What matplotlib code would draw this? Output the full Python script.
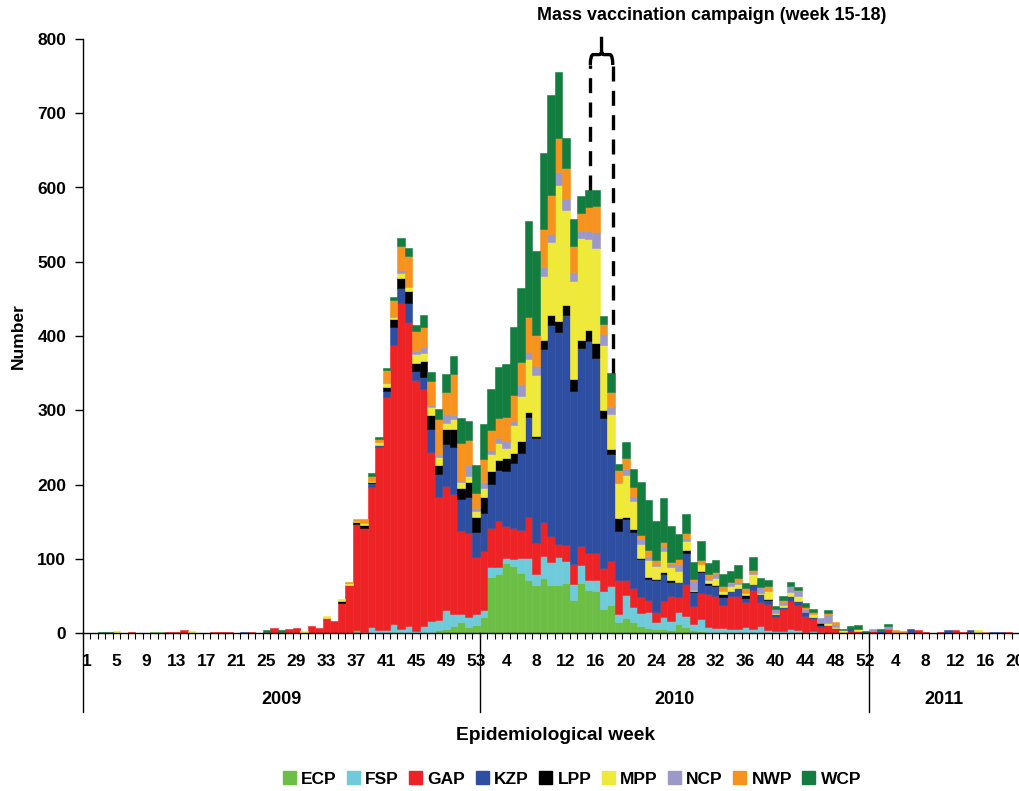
import numpy as np
import matplotlib
matplotlib.use('Agg')
import matplotlib.pyplot as plt
from matplotlib.path import Path
from matplotlib.patches import PathPatch, Patch
import matplotlib.transforms as mtrans

# ---------------- data ----------------
weeks_2009 = list(range(1, 54))
weeks_2010 = list(range(1, 53))
weeks_2011 = list(range(1, 21))

series_names = ['ECP', 'FSP', 'GAP', 'KZP', 'LPP', 'MPP', 'NCP', 'NWP', 'WCP']
series_colors = ['#6CBE45', '#6FCBD9', '#EE2326', '#2E4FA1', '#000000',
                 '#EFEA3A', '#9C98CA', '#F6921E', '#127D3F']

ECP_2009 = [0, 0, 0, 0, 0, 0, 0, 0, 0, 1.3,
            1.3, 0, 0, 0, 0, 0, 0, 0, 0, 0,
            0, 0, 0, 0, 0, 0, 0, 0, 0, 0,
            0, 0, 0, 0, 0, 0, 3.5, 0, 0, 0,
            0, 1.5, 0, 0, 0, 0, 0, 4.5, 6, 10,
            15, 8.5, 11]
FSP_2009 = [0] * 30 + [0, 0, 0, 0, 0, 0, 0, 2, 8.5, 4.5,
                       4.5, 10, 6, 9, 3, 10, 16.6, 13.5, 25.6, 16,
                       10.8, 13.5, 15]
GAP_2009 = [0, 0, 0, 0, 0, 0, 1.3, 0, 0, 0,
            0, 1.3, 1.3, 4.5, 0, 0, 0, 1.3, 1.3, 1.3,
            0, 0, 1.3, 0, 1.3, 6.7, 1.3, 5.4, 6.7, 0,
            9.4, 6.7, 20, 16, 40, 65, 143.5, 140, 187.6, 245.5,
            313, 376, 439, 410, 338, 319, 227.6, 165.6, 167, 161.6,
            112, 113, 77]
KZP_2009 = [0] * 20 + [0, 1.3, 0, 0, 0, 0, 0, 0, 0, 0,
                       0, 0, 0, 0, 0, 0, 0, 0, 5.4, 2.7,
                       9, 24, 19, 25, 12, 16, 31, 31, 56.5, 63,
                       43, 48.5, 33.6]
LPP_2009 = [0] * 30 + [0, 0, 0, 0, 2.7, 0, 2.7, 3.6, 1.3, 0,
                       5.4, 12, 13.5, 16, 10.8, 21.5, 18.8, 12, 20, 24,
                       14.8, 20, 20]
MPP_2009 = [0, 0, 0, 0, 2.7, 0, 0, 0, 0, 0,
            0, 0, 0, 0, 2.7, 0, 0, 0, 0, 0,
            0, 0, 0, 0, 0, 0, 0, 0, 0, 2.7,
            0, 0, 2.7, 0, 3.6, 2, 1.3, 2.2, 2.2, 4,
            4.5, 2.2, 8, 5.4, 12, 10.8, 10.8, 10.8, 8, 13.5,
            8, 8, 8]
NCP_2009 = [0] * 40 + [2.2, 1.8, 4, 0, 4, 8, 1.8, 4, 12, 5.4,
                       1.3, 14.8, 4]
NWP_2009 = [0] * 30 + [0, 0, 0, 0, 0, 2, 2.7, 5.8, 6.7, 4,
                       16, 21.5, 31.4, 41.7, 27, 27, 33, 47, 29.6, 55,
                       51, 33.6, 20]
WCP_2009 = [0, 0, 1.3, 1.3, 0, 0, 0, 0, 0, 0,
            0, 0, 0, 0, 0, 0, 0, 0, 0, 0,
            0, 0, 0, 0, 2.7, 0, 2.7, 0, 0, 0,
            0, 0, 0, 0, 0, 0, 0, 0, 3.6, 3.6,
            2.7, 4, 11.7, 10.8, 8, 16, 12, 13.5, 24, 24,
            33.6, 25.6, 37.7]

ECP_2010 = [21, 75, 79, 94, 90, 81, 71, 64, 74, 64,
            65, 67, 44, 67, 58, 56, 32, 38, 15, 20,
            15, 10, 7, 5, 5, 4, 11.7, 7.6, 4, 3,
            0, 0, 0, 0, 0, 0, 0, 0, 1.3, 0,
            0, 0, 0, 0, 0, 0, 0, 0, 0, 0,
            0, 0]
FSP_2010 = [10, 14, 10, 7.5, 9, 20, 30, 15, 30, 32,
            38, 30, 22.5, 25, 13.5, 16, 24, 25, 11, 31,
            20, 17.5, 21.5, 10, 17, 12, 16.6, 15, 8, 15.7,
            7.6, 6.7, 6.3, 5, 5, 7.6, 5, 9.4, 3, 3,
            3, 5, 4, 1.5, 2.7, 1.3, 0, 0, 0, 0,
            0, 0]
GAP_2010 = [80, 52, 62, 42, 42, 38, 55, 42, 45, 35,
            17, 22, 27, 25, 36, 36, 31, 34, 45, 20,
            25, 21.5, 15.7, 13.5, 21, 33.7, 20, 43, 24, 34.6,
            45, 43.5, 31.4, 45, 45, 34.6, 53, 32.8, 35, 18,
            28.7, 38, 34, 22, 16, 6.7, 10.8, 5.4, 1.3, 3.2,
            2.7, 0]
KZP_2010 = [51, 60, 68, 75, 88, 104, 135, 142, 234, 284,
            285, 309, 233, 267, 286, 263, 202, 144, 66, 83,
            76, 51, 28, 42.6, 37, 19.3, 20.7, 42.6, 19, 28.7,
            12.6, 13.5, 11.2, 6.7, 11, 5.4, 7.6, 10, 5.4, 4.5,
            3.6, 6.7, 4.5, 4.5, 2.7, 2.7, 0, 1.3, 0, 4,
            0, 0]
LPP_2010 = [21, 17.5, 14, 17.5, 14, 15, 6.5, 2.5, 11, 13.5,
            15, 14, 16, 11, 14.4, 20, 11, 7, 18, 2,
            4.5, 1.3, 3, 2, 2.2, 2, 0, 4, 1.3, 1.3,
            1.8, 1, 3, 0, 0, 3.6, 0, 0, 1.3, 0,
            0, 0, 0, 0, 0, 2.7, 0, 0, 0, 0,
            0, 0]
MPP_2010 = [12.5, 22.5, 22.4, 13.5, 37, 61, 72, 82, 87, 98,
            183, 128, 131, 137, 123, 128, 87.5, 47, 47, 57,
            37, 18.4, 23, 16.6, 28, 18, 14.4, 11.2, 2.2, 10.3,
            4.5, 10, 4.5, 6.7, 5, 3, 13.5, 2.2, 10, 1.8,
            2.2, 5.8, 7.6, 0, 4, 0, 2.7, 1.3, 2.2, 0,
            2.7, 0]
NCP_2010 = [7.5, 6, 7.5, 9, 5, 16, 9, 12.5, 12.5, 11,
            18, 14, 12.6, 9, 11, 21.5, 15.7, 10, 2, 8.5,
            7, 6.7, 6, 3.6, 6.7, 4.5, 9.4, 5, 11, 0,
            3, 4.5, 0, 3.6, 3, 0, 3.6, 8, 0, 4.5,
            4.5, 8, 6.7, 4, 0, 6.7, 10.8, 4, 0, 0,
            0, 0]
NWP_2010 = [31, 26.4, 26, 32, 35, 30, 47, 41, 51, 52,
            45, 42, 34.6, 25, 32, 34.6, 12.6, 19, 16, 14,
            12.6, 5.4, 7.6, 4.5, 5.4, 2.2, 6.3, 6.7, 2.7, 4.5,
            5, 2.7, 6.7, 2.2, 4.5, 5.8, 2, 0, 7.6, 0,
            3, 0, 1.3, 2.7, 2.7, 0, 2.7, 2.7, 0, 0,
            0, 0]
WCP_2010 = [48, 55, 69, 72, 92, 99, 129, 113, 102, 135,
            90, 41, 37, 23, 23, 21.5, 10.8, 26, 7, 22,
            24, 71.4, 67, 52.5, 59, 48, 34, 24.7, 24, 25.6,
            14.4, 16.6, 16, 14.4, 18, 8, 17, 11.2, 8, 4.5,
            4.5, 5, 4.5, 5.4, 4, 0, 4, 0, 1.8, 2.7,
            5.4, 2.7]

ECP_2011 = [0] * 20
FSP_2011 = [0] * 20
GAP_2011 = [2.7, 0, 5.4, 0, 0, 1.3, 4, 1.3, 0, 1.3,
            0, 4, 1.3, 1.3, 0, 0, 0, 0, 1.3, 0]
KZP_2011 = [0, 2.7, 0, 0, 0, 4, 0, 0, 0, 0,
            4, 0, 0, 2.7, 1.3, 0, 1.3, 1.3, 0, 0]
LPP_2011 = [0] * 20
MPP_2011 = [0, 0, 0, 0, 0, 0, 0, 0, 0, 0,
            0, 0, 0, 0, 2.7, 0, 0, 0, 0, 0]
NCP_2011 = [2.7, 0, 4, 1.3, 0, 0, 0, 0, 0, 0,
            0, 0, 0, 0, 0, 0, 0, 0, 0, 0]
NWP_2011 = [0, 0, 0, 2.7, 2.7, 0, 0, 0, 0, 0,
            0, 0, 0, 0, 0, 1.3, 0, 0, 0, 0]
WCP_2011 = [0, 2.7, 2.7, 0, 0, 0, 0, 0, 0, 0,
            0, 0, 0, 0, 0, 0, 0, 0, 0, 0]

data = {
    'ECP': ECP_2009 + ECP_2010 + ECP_2011,
    'FSP': FSP_2009 + FSP_2010 + FSP_2011,
    'GAP': GAP_2009 + GAP_2010 + GAP_2011,
    'KZP': KZP_2009 + KZP_2010 + KZP_2011,
    'LPP': LPP_2009 + LPP_2010 + LPP_2011,
    'MPP': MPP_2009 + MPP_2010 + MPP_2011,
    'NCP': NCP_2009 + NCP_2010 + NCP_2011,
    'NWP': NWP_2009 + NWP_2010 + NWP_2011,
    'WCP': WCP_2009 + WCP_2010 + WCP_2011,
}

tick_weeks_2009 = list(range(1, 54, 4))
tick_weeks_2010 = list(range(4, 53, 4))
tick_weeks_2011 = list(range(4, 21, 4))
years = ['2009', '2010', '2011']

# ---------------- figure ----------------
plt.rcParams['font.family'] = ['Liberation Sans', 'DejaVu Sans']
plt.rcParams['font.weight'] = 'bold'
FS = 12.5

W, H = 1020, 791
fig = plt.figure(figsize=(W / 100, H / 100), dpi=100)
ax = fig.add_axes([83 / W, 1 - 633 / H, 936 / W, (633 - 39) / H])

n1, n2, n3 = len(weeks_2009), len(weeks_2010), len(weeks_2011)
n = n1 + n2 + n3
x = np.arange(n)
bottom = np.zeros(n)
for name, color in zip(series_names, series_colors):
    vals = np.array(data[name], dtype=float)
    m = vals > 0
    ax.bar(x[m], vals[m], width=1.0, bottom=bottom[m], color=color,
           edgecolor=color, linewidth=0.4, zorder=2)
    bottom += vals
total = bottom.copy()

ax.set_xlim(-0.5, n - 0.5)
ax.set_ylim(0, 800)
for s in ['top', 'right']:
    ax.spines[s].set_visible(False)
ax.spines['left'].set_linewidth(1.0)
ax.spines['bottom'].set_linewidth(1.0)
ax.spines['bottom'].set_zorder(3)

ax.set_yticks(range(0, 801, 100))
ax.tick_params(axis='y', direction='out', length=6, width=1, labelsize=FS, pad=6)

tick_pos = [w - 1 for w in tick_weeks_2009] + \
           [n1 + w - 1 for w in tick_weeks_2010] + \
           [n1 + n2 + w - 1 for w in tick_weeks_2011]
tick_lab = [str(w) for w in tick_weeks_2009 + tick_weeks_2010 + tick_weeks_2011]
ax.set_xticks(tick_pos)
ax.set_xticklabels(tick_lab)
ax.set_xticks(np.arange(-0.5, n, 1.0), minor=True)
ax.tick_params(axis='x', which='major', length=0, labelsize=FS, pad=15)
ax.tick_params(axis='x', which='minor', direction='out', length=4, width=0.8)

# year separators
sep_bottom = (633 - 712) / 0.7425
for xs in [-0.5, n1 - 0.5, n1 + n2 - 0.5]:
    ax.plot([xs, xs], [0, sep_bottom], color='black', lw=1.0, clip_on=False)

trans = mtrans.blended_transform_factory(ax.transData, fig.transFigure)
centers = [(-0.5 + n1 - 0.5) / 2, (n1 - 0.5 + n1 + n2 - 0.5) / 2,
           (n1 + n2 - 0.5 + n - 0.5) / 2]
for c, yl in zip(centers, years):
    ax.text(c, 1 - 700 / H, yl, transform=trans, ha='center', va='center',
            fontsize=13, fontweight='bold')

fig.text(556 / W, 1 - 735 / H, 'Epidemiological week', ha='center', va='center',
         fontsize=13.8, fontweight='bold')
fig.text(18 / W, 1 - 336 / H, 'Number', ha='center', va='center', rotation=90,
         fontsize=FS, fontweight='bold')
fig.text(712 / W, 1 - 16 / H, 'Mass vaccination campaign (week 15-18)',
         ha='center', va='center', fontsize=12.9, fontweight='bold')

# vaccination campaign markers
i15 = n1 + 15 - 1
i18 = n1 + 18 - 1
xl, xr = i15 + 0.25, i18 + 0.25
xc = (xl + xr) / 2
y_leg = 765
y_bar = 779
y_tip = 803
ax.plot([xl, xl], [total[i15], y_leg], color='black', lw=2.4,
        linestyle=(0, (4.5, 2.8)), zorder=4, clip_on=False)
ax.plot([xr, xr], [total[i18], y_leg], color='black', lw=2.4,
        linestyle=(0, (4.5, 2.8)), zorder=4, clip_on=False)
verts = [(xl, y_leg), (xl, y_bar), (xl + 0.4, y_bar), (xc - 0.35, y_bar),
         (xc, y_bar), (xc, y_bar + 4), (xc, y_tip),
         (xr, y_leg), (xr, y_bar), (xr - 0.4, y_bar), (xc + 0.35, y_bar),
         (xc, y_bar), (xc, y_bar + 4)]
codes = [Path.MOVETO, Path.CURVE3, Path.CURVE3, Path.LINETO,
         Path.CURVE3, Path.CURVE3, Path.LINETO,
         Path.MOVETO, Path.CURVE3, Path.CURVE3, Path.LINETO,
         Path.CURVE3, Path.CURVE3]
ax.add_patch(PathPatch(Path(verts, codes), facecolor='none', edgecolor='black',
                       lw=2.4, clip_on=False, zorder=4))

handles = [Patch(facecolor=c, edgecolor=c) for c in series_colors]
fig.legend(handles, series_names, loc='center', bbox_to_anchor=(572 / W, 1 - 779 / H),
           ncol=9, frameon=False, fontsize=FS, handlelength=0.75, handleheight=0.75,
           handletextpad=0.3, columnspacing=0.6, borderaxespad=0)

fig.savefig('out.png', dpi=100)
